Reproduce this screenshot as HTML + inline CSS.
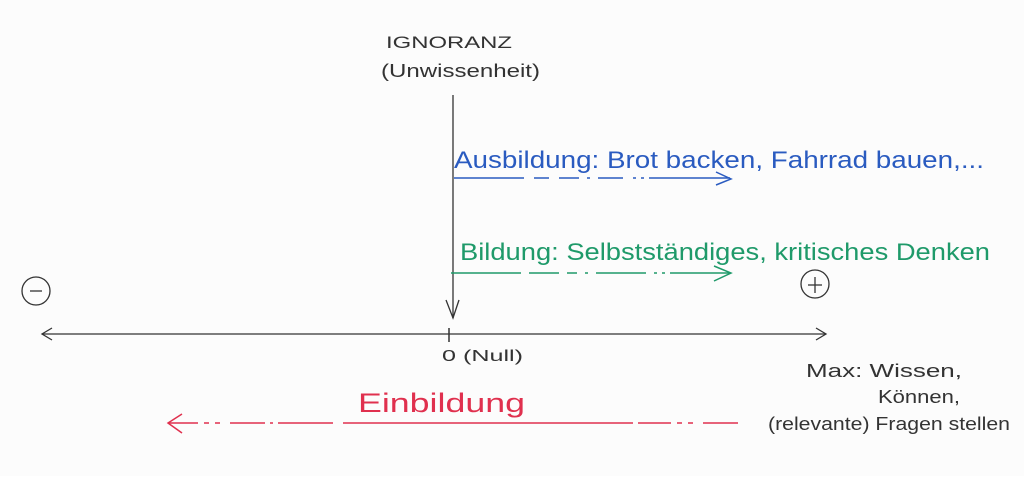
<!DOCTYPE html>
<html><head><meta charset="utf-8"><style>
html,body{margin:0;padding:0;background:#fff;}
svg text{font-family:"Liberation Sans",sans-serif;}
</style></head><body>
<svg width="1024" height="476" viewBox="0 0 1024 476" xmlns="http://www.w3.org/2000/svg">
<rect width="1024" height="476" fill="#fcfcfc"/>
<line x1="42" y1="334" x2="826" y2="334" stroke="#333" stroke-width="1.3"/>
<polyline points="52,328 42,334 52,340" fill="none" stroke="#333" stroke-width="1.3"/>
<polyline points="816,328 826,334 816,340" fill="none" stroke="#333" stroke-width="1.3"/>
<line x1="449" y1="328" x2="449" y2="342" stroke="#333" stroke-width="1.5"/>
<line x1="453" y1="95" x2="453" y2="318" stroke="#333" stroke-width="1.3"/>
<polyline points="446,300 453,318 459,300" fill="none" stroke="#333" stroke-width="1.3"/>
<text x="386" y="48" font-size="17" fill="#333" textLength="126" lengthAdjust="spacingAndGlyphs">IGNORANZ</text>
<text x="381" y="77" font-size="18" fill="#333" textLength="159" lengthAdjust="spacingAndGlyphs">(Unwissenheit)</text>
<circle cx="36" cy="291" r="14" fill="none" stroke="#333" stroke-width="1.3"/>
<line x1="30" y1="291" x2="42" y2="291" stroke="#333" stroke-width="1.3"/>
<circle cx="815" cy="284" r="14" fill="none" stroke="#333" stroke-width="1.3"/>
<line x1="808" y1="285" x2="822" y2="285" stroke="#333" stroke-width="1.3"/>
<line x1="815" y1="277" x2="815" y2="293" stroke="#333" stroke-width="1.3"/>
<text x="454" y="168" font-size="24" fill="#2a5bc0" textLength="530" lengthAdjust="spacingAndGlyphs">Ausbildung: Brot backen, Fahrrad bauen,...</text>
<line x1="454" y1="178" x2="730" y2="178" stroke="#2a5bc0" stroke-width="1.5" stroke-dasharray="70,10,15,10,20,8,3,8,25,10,3,5,3,5,15,0"/>
<polyline points="716,172 731,179 716,185" fill="none" stroke="#2a5bc0" stroke-width="1.5"/>
<text x="460" y="260" font-size="24" fill="#1f9a6a" textLength="530" lengthAdjust="spacingAndGlyphs">Bildung: Selbstständiges, kritisches Denken</text>
<line x1="451" y1="273" x2="730" y2="273" stroke="#1f9a6a" stroke-width="1.5" stroke-dasharray="70,8,30,8,10,8,3,8,50,8,3,5,3,5,20,0"/>
<polyline points="714,266 731,273 714,281" fill="none" stroke="#1f9a6a" stroke-width="1.5"/>
<text x="442" y="361" font-size="16" fill="#333" textLength="81" lengthAdjust="spacingAndGlyphs">0 (Null)</text>
<text x="806" y="377" font-size="18" fill="#333" textLength="156" lengthAdjust="spacingAndGlyphs">Max: Wissen,</text>
<text x="878" y="403" font-size="18" fill="#333" textLength="82" lengthAdjust="spacingAndGlyphs">Können,</text>
<text x="768" y="430" font-size="18" fill="#333" textLength="242" lengthAdjust="spacingAndGlyphs">(relevante) Fragen stellen</text>
<text x="358" y="412" font-size="27" fill="#e0304e" textLength="167" lengthAdjust="spacingAndGlyphs">Einbildung</text>
<line x1="168" y1="423" x2="740" y2="423" stroke="#e0304e" stroke-width="1.5" stroke-dasharray="30,6,5,6,5,10,35,5,3,5,55,10,290,5,3,0"/>
<polyline points="182,414 168,423 182,433" fill="none" stroke="#e0304e" stroke-width="1.5"/>
</svg>
</body></html>
